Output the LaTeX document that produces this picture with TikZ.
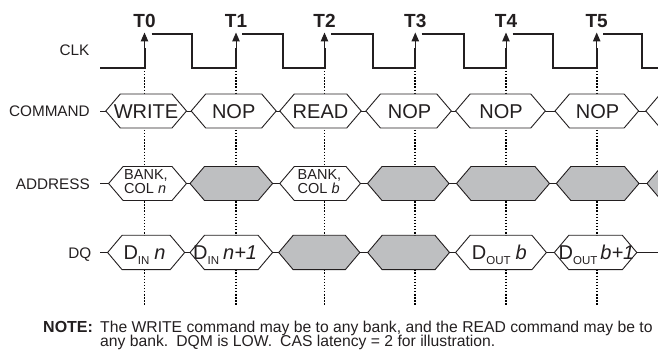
\documentclass[tikz,border=0pt]{standalone}
\usepackage{fontspec}
\setmainfont{Liberation Sans}
\usetikzlibrary{arrows.meta}
\definecolor{busgray}{RGB}{190,191,193}
\definecolor{ink}{RGB}{35,31,32}
\newcommand\lowsub[1]{\raisebox{-5.5pt}{\fontsize{11.5}{12}\selectfont #1}}
\begin{document}
\begin{tikzpicture}[x=1pt,y=-1pt,
 clk/.style={line width=2pt, draw=ink, line cap=butt, line join=miter},
 tick/.style={draw=ink, line width=1pt, -{Triangle[width=7.5pt,length=9pt]}},
 hexw/.style={draw=ink, line width=0.9pt, fill=white, line join=miter},
 hexg/.style={hexw, fill=busgray},
 busline/.style={draw=ink, line width=0.9pt},
 guide/.style={draw=black, line width=1.9pt, dash pattern=on 1.4pt off 1.7pt},
 rowlabel/.style={font=\fontsize{15.3}{16}\selectfont, anchor=base east, inner sep=0pt, text=ink},
 tlabel/.style={font=\fontsize{19}{20}\selectfont\bfseries, anchor=base, inner sep=0pt, text=ink},
 cmd/.style={font=\fontsize{20}{22}\selectfont, anchor=base, inner sep=0pt, text=ink},
 addr/.style={font=\fontsize{14.5}{15}\selectfont, anchor=base west, inner sep=0pt, text=ink},
 dq/.style={font=\fontsize{20}{22}\selectfont, anchor=base west, inner sep=0pt, text=ink},
 notebold/.style={font=\fontsize{16}{17}\selectfont\bfseries, anchor=base west, inner sep=0pt, text=ink},
 notetext/.style={font=\fontsize{15.7}{17}\selectfont, anchor=base west, inner sep=0pt, text=ink}]
\useasboundingbox (0,0) rectangle (658,352);
\clip (0,0) rectangle (658,352);

% clock edges and dotted guides
\foreach \i/\x in {0/144.5,1/236,2/324.5,3/415.3,4/506,5/596.7}{
  \coordinate (e\i) at (\x,68);
  \coordinate (g\i top) at (\x,71);
  \coordinate (g\i bot) at (\x,306);
  \draw[guide] (g\i top) -- (g\i bot);
  \node[tlabel] (T\i) at (\x,27.3) {T\i};
}

% clock waveform
\coordinate (clkstart) at (100,68);
\draw[clk] (clkstart) -- (e0);
\foreach \x/\h/\f/\n in {144.5/151.7/192/236, 236/242.3/283/324.5,
  324.5/331/372.7/415.3, 415.3/421.7/464.3/506, 506/512.7/553.3/596.7,
  596.7/603.3/642.3/662}{
  \draw[clk] (\x,69) -- (\x,48);
  \draw[tick] (\x,50) -- (\x,32.5);
  \draw[clk] (\h,34) -- (\f,34) -- (\f,68) -- (\n,68);
}

% row labels
\node[rowlabel] (lclk) at (89.5,55.7) {CLK};
\node[rowlabel] (lcmd) at (90,116.7) {COMMAND};
\node[rowlabel] (laddr) at (90,190) {ADDRESS};
\node[rowlabel] (ldq) at (91.5,258.3) {DQ};

% bus centre lines
\draw[busline] (100,111) -- (662,111);
\draw[busline] (100,183.5) -- (662,183.5);
\draw[busline] (100,252.5) -- (662,252.5);

% COMMAND hexes
\foreach \l/\r/\s in {105.8/186.5/hexw, 191.2/276.2/hexw, 279.8/361.2/hexw,
  365.9/451.3/hexw, 455.6/545.3/hexw, 555/638.6/hexw, 645.8/740/hexw}{
  \draw[\s] (\l,111) -- (\l+14.5,94) -- (\r-14.5,94) -- (\r,111)
    -- (\r-14.5,128) -- (\l+14.5,128) -- cycle;
}
% ADDRESS hexes
\foreach \l/\r/\s in {108.6/186.5/hexw, 190/272.6/hexg, 279.8/360.5/hexw,
  367.5/449/hexg, 456.5/549.5/hexg, 556.3/639/hexg, 647/740/hexg}{
  \draw[\s] (\l,183.5) -- (\l+14.5,166.5) -- (\r-14.5,166.5) -- (\r,183.5)
    -- (\r-14.5,200.5) -- (\l+14.5,200.5) -- cycle;
}
% DQ hexes
\foreach \l/\r/\s in {107.6/184.7/hexw, 190/272.6/hexw, 278.7/359.8/hexg,
  367.7/449.5/hexg, 455.6/546.4/hexw, 554.3/636.8/hexw}{
  \draw[\s] (\l,252.5) -- (\l+14.5,235.3) -- (\r-14.5,235.3) -- (\r,252.5)
    -- (\r-14.5,269.7) -- (\l+14.5,269.7) -- cycle;
}

% COMMAND texts
\node[cmd] (c0) at (146,118.3) {WRITE};
\node[cmd] (c1) at (233.7,118.3) {NOP};
\node[cmd] (c2) at (320.5,118.3) {READ};
\node[cmd] (c3) at (409.5,118.3) {NOP};
\node[cmd] (c4) at (501,118.3) {NOP};
\node[cmd] (c5) at (597.5,118.3) {NOP};

% ADDRESS texts
\node[addr] (a0) at (124,179.3) {BANK,};
\node[addr] (a0b) at (124,194) {COL \textit{n}};
\node[addr] (a2) at (297.5,179.3) {BANK,};
\node[addr] (a2b) at (297.5,194) {COL \textit{b}};

% DQ texts
\node[dq] (d0) at (123.3,259.5) {D\lowsub{IN}\hspace{5pt}\textit{n}};
\node[dq] (d1) at (193,259.5) {D\lowsub{IN}\hspace{4pt}\textit{n+1}};
\node[dq] (d4) at (471.7,259.5) {D\lowsub{OUT}\hspace{5pt}\textit{b}};
\node[dq] (d5) at (558.5,259.5) {D\lowsub{OUT}\hspace{3pt}\textit{b+1}};

% note
\node[notebold] (nh) at (43,332) {NOTE:};
\node[notetext] (n1) at (100,332) {The WRITE command may be to any bank, and the READ command may be to};
\node[notetext] (n2) at (100,346.5) {any bank.\hspace{8pt}DQM is LOW.\hspace{8pt}CAS latency = 2 for illustration.};
\end{tikzpicture}
\end{document}
